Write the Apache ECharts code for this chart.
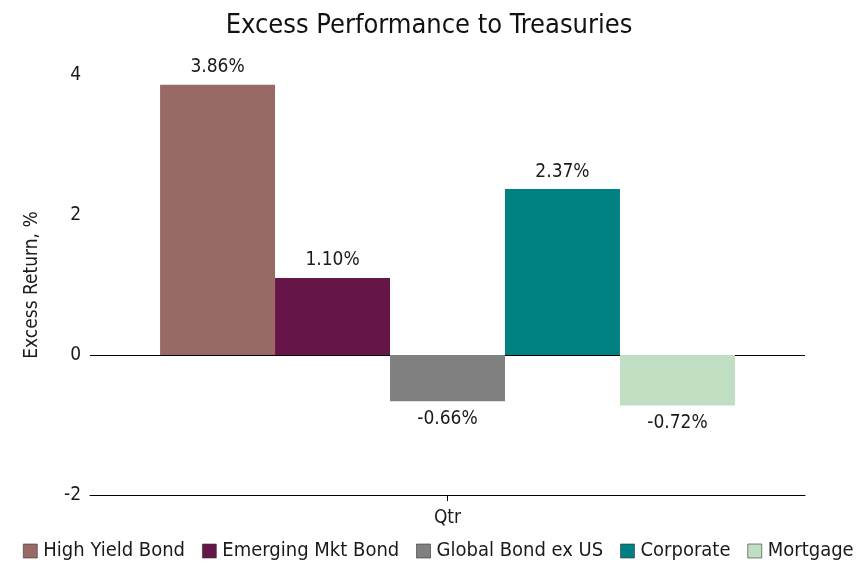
<!DOCTYPE html>
<html>
<head>
<meta charset="utf-8">
<script src="https://cdn.jsdelivr.net/npm/echarts@6/dist/echarts.min.js"></script>
<style>
  html, body { margin: 0; padding: 0; background: #fff; }
  #chart { width: 858px; height: 563px; }
</style>
</head>
<body>
<div id="chart"></div>
<script>
// Quarterly excess return versus Treasuries, by sector
const categories = ['Qtr'];
const seriesNames = ['High Yield Bond', 'Emerging Mkt Bond', 'Global Bond ex US', 'Corporate', 'Mortgage'];
const seriesValues = [3.86, 1.10, -0.66, 2.37, -0.72];
const seriesColors = ['#996966', '#661548', '#808080', '#008080', '#c0dec2'];
const yTicks = [-2, 0, 2, 4];

const FONT = '"DejaVu Sans Condensed", "Liberation Sans", sans-serif';

const chart = echarts.init(document.getElementById('chart'), null, { renderer: 'canvas' });

const series = seriesNames.map((name, i) => ({
  name: name,
  type: 'bar',
  barGap: '0%',
  barCategoryGap: '19.6%',
  itemStyle: { color: seriesColors[i] },
  label: {
    show: true,
    position: seriesValues[i] >= 0 ? 'top' : 'bottom',
    distance: 8,
    color: '#1a1a1a',
    fontFamily: FONT,
    fontSize: 19,
    formatter: p => p.value.toFixed(2) + '%'
  },
  data: [seriesValues[i]]
}));

chart.setOption({
  backgroundColor: '#fff',
  animation: false,
  title: {
    text: 'Excess Performance to Treasuries',
    left: 'center',
    top: 7,
    textStyle: { fontFamily: FONT, fontWeight: 'normal', fontSize: 27, color: '#111' }
  },
  legend: {
    top: 541,
    left: 23,
    right: 0,
    padding: 0,
    itemWidth: 14,
    itemHeight: 14,
    itemGap: 17,
    icon: 'rect',
    itemStyle: { borderColor: '#333', borderWidth: 0.6 },
    textStyle: { fontFamily: FONT, fontSize: 20, color: '#1a1a1a', padding: [0, 0, 0, 1] },
    data: seriesNames
  },
  grid: { left: 90, right: 53, top: 75, bottom: 68 },
  xAxis: {
    type: 'category',
    data: categories,
    axisLine: { onZero: false, lineStyle: { color: '#000', width: 1 } },
    axisTick: { show: true, alignWithLabel: true, length: 6, lineStyle: { color: '#000' } },
    axisLabel: { fontFamily: FONT, fontSize: 19, color: '#1a1a1a', margin: 14 }
  },
  yAxis: {
    type: 'value',
    min: yTicks[0],
    max: yTicks[yTicks.length - 1],
    interval: 2,
    name: 'Excess Return, %',
    nameLocation: 'middle',
    nameGap: 48,
    nameTextStyle: { fontFamily: FONT, fontSize: 19, color: '#1a1a1a' },
    axisLine: { show: false },
    axisTick: { show: false },
    axisLabel: { fontFamily: FONT, fontSize: 19, color: '#1a1a1a', margin: 9 },
    splitLine: {
      show: true,
      lineStyle: { color: yTicks.map(t => (t === 0 ? '#000' : 'rgba(0,0,0,0)')), width: 1 }
    }
  },
  series: series
});
</script>
</body>
</html>
